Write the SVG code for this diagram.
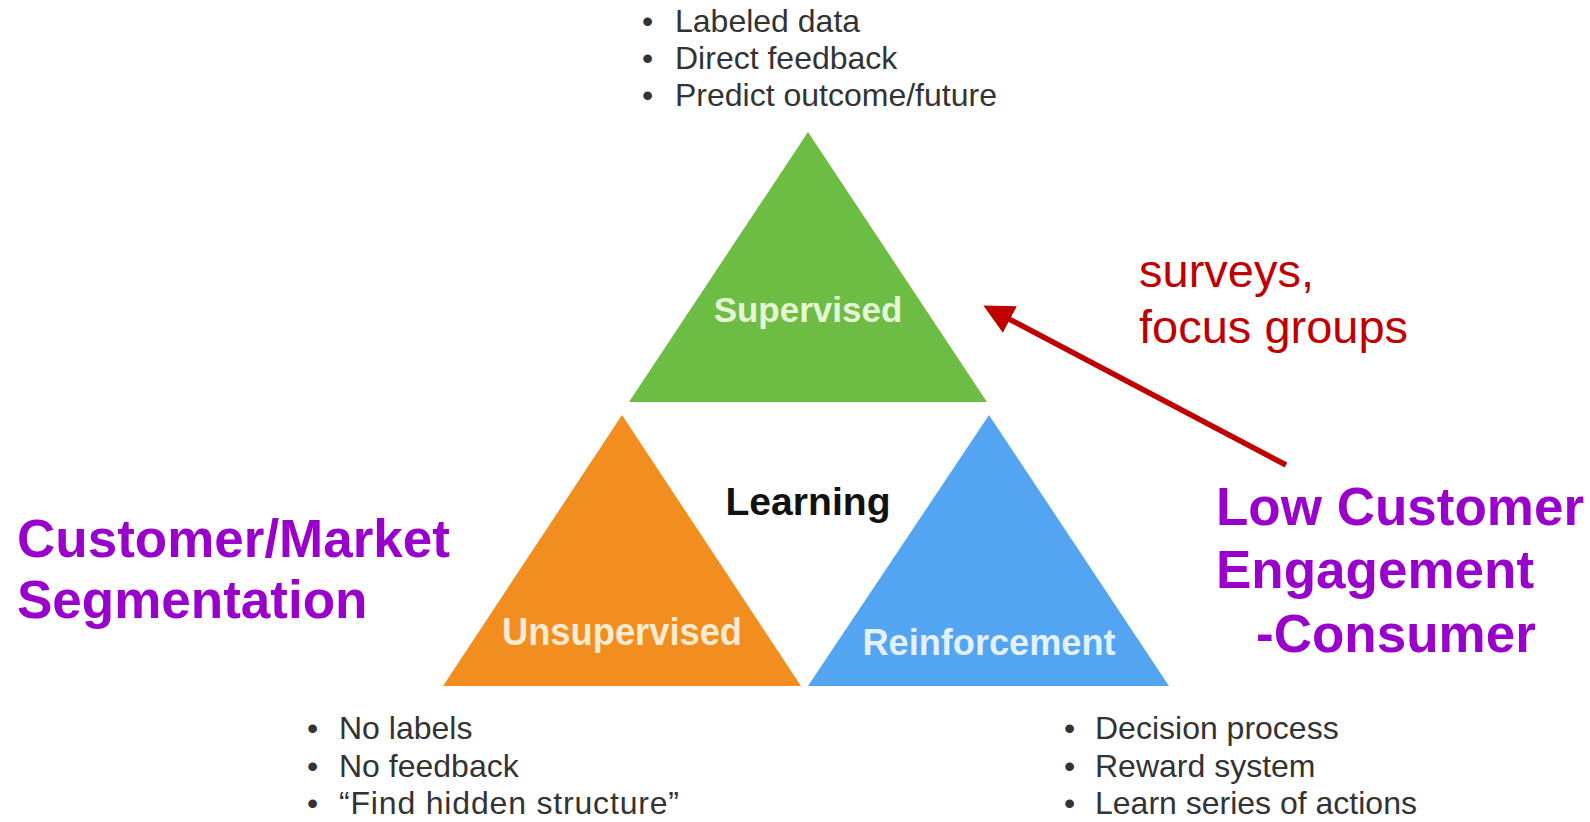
<svg xmlns="http://www.w3.org/2000/svg" width="1590" height="822" viewBox="0 0 1590 822">
<style>
  .bul { font-family: "Liberation Sans", Arial, sans-serif; font-size: 32px; fill: #333333; }
  .tri-label { font-family: "Liberation Sans", Arial, sans-serif; font-weight: bold; text-anchor: middle; }
  .purple { font-family: "Liberation Sans", Arial, sans-serif; font-weight: bold; font-size: 53px; fill: #9900CC; }
  .red { font-family: "Liberation Sans", Arial, sans-serif; font-size: 47px; fill: #C00000; }
</style>
<defs>
  <marker id="arrowhead" markerUnits="userSpaceOnUse" markerWidth="32" markerHeight="32" refX="1" refY="15" orient="auto">
    <path d="M0,0 L30,15 L0,30 Z" fill="#C00000"/>
  </marker>
</defs>
<rect x="0" y="0" width="1590" height="822" fill="#FFFFFF"/>

<g id="supervised-notes">
  <text class="bul" x="642" y="32">•</text><text class="bul" x="675" y="32">Labeled data</text>
  <text class="bul" x="642" y="69">•</text><text class="bul" x="675" y="69">Direct feedback</text>
  <text class="bul" x="642" y="106">•</text><text class="bul" x="675" y="106">Predict outcome/future</text>
</g>

<g id="supervised">
  <polygon points="808,132 987,402 629,402" fill="#6DBD45"/>
  <text class="tri-label" x="808" y="322" font-size="35" fill="#E6F5D6">Supervised</text>
</g>

<g id="unsupervised">
  <polygon points="622,415 801,686 443,686" fill="#F28E1F"/>
  <text class="tri-label" x="622" y="645" font-size="38" fill="#FCEBD3" textLength="240" lengthAdjust="spacingAndGlyphs">Unsupervised</text>
</g>

<g id="reinforcement">
  <polygon points="989,415 1169,686 808,686" fill="#54A5F1"/>
  <text class="tri-label" x="989" y="655" font-size="37" fill="#E4F1FC" textLength="253" lengthAdjust="spacingAndGlyphs">Reinforcement</text>
</g>

<g id="learning">
  <text class="tri-label" x="808" y="515" font-size="39" fill="#111111" textLength="165" lengthAdjust="spacingAndGlyphs">Learning</text>
</g>

<g id="unsupervised-notes">
  <text class="bul" x="307" y="739">•</text><text class="bul" x="339" y="739">No labels</text>
  <text class="bul" x="307" y="777">•</text><text class="bul" x="339" y="777">No feedback</text>
  <text class="bul" x="307" y="814">•</text><text class="bul" x="339" y="814" textLength="340" lengthAdjust="spacing">“Find hidden structure”</text>
</g>

<g id="reinforcement-notes">
  <text class="bul" x="1064" y="739">•</text><text class="bul" x="1095" y="739">Decision process</text>
  <text class="bul" x="1064" y="777">•</text><text class="bul" x="1095" y="777">Reward system</text>
  <text class="bul" x="1064" y="814">•</text><text class="bul" x="1095" y="814">Learn series of actions</text>
</g>

<g id="segmentation">
  <text class="purple" x="17" y="557">Customer/Market</text>
  <text class="purple" x="17" y="618">Segmentation</text>
</g>

<g id="low-engagement">
  <text class="purple" x="1216" y="525">Low Customer</text>
  <text class="purple" x="1216" y="588">Engagement</text>
  <text class="purple" x="1256" y="652">-Consumer</text>
</g>

<g id="surveys-label">
  <text class="red" x="1139" y="287">surveys,</text>
  <text class="red" x="1139" y="343">focus groups</text>
</g>

<g id="connectors">
  <line x1="1286" y1="465" x2="1009" y2="319" stroke="#C00000" stroke-width="5.5" marker-end="url(#arrowhead)"/>
</g>
</svg>
